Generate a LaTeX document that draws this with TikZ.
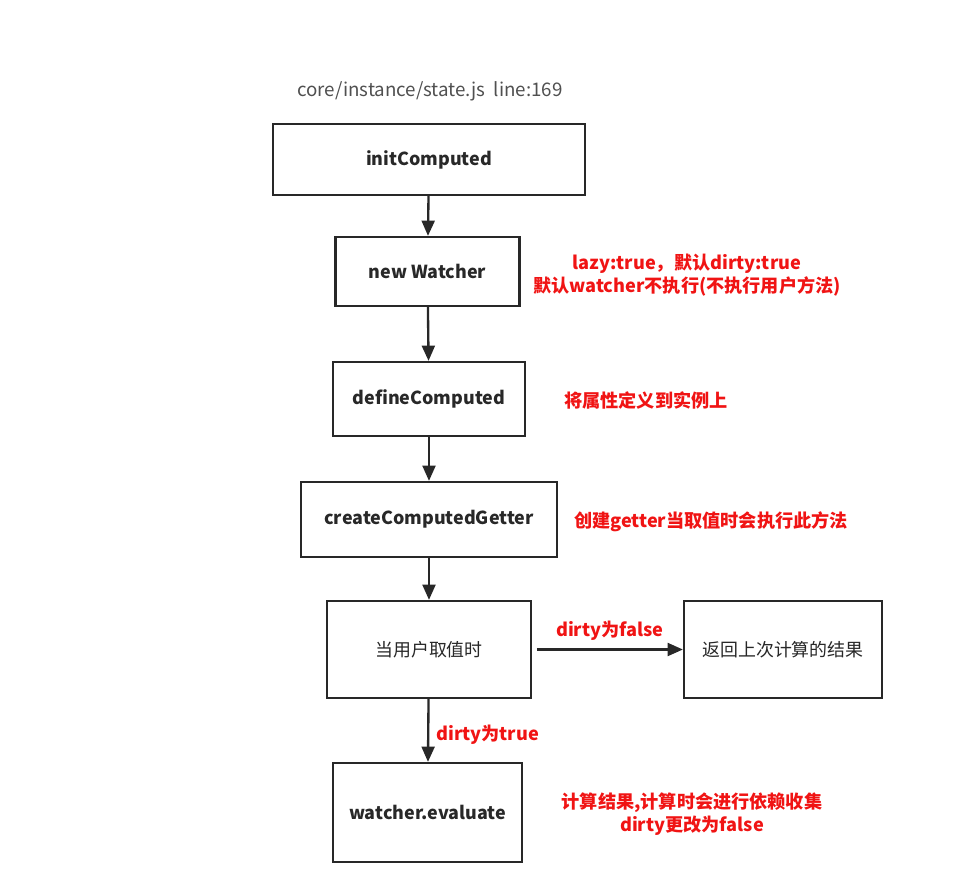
\documentclass[tikz,border=0pt]{standalone}
\usepackage{fontspec}
\setmainfont{Noto Sans CJK SC}
\usepackage{tikz}
\usetikzlibrary{positioning, arrows.meta}
\definecolor{BoxLine}{RGB}{40,40,40}
\definecolor{NoteRed}{RGB}{240,20,20}
\definecolor{PathGray}{RGB}{80,80,80}

\begin{document}
\begin{tikzpicture}[x=0.03cm, y=-0.03cm,
          stage/.style={rectangle, draw=BoxLine, line width=1.9pt,
                        font=\fontsize{15.3}{18}\selectfont\bfseries,
                        text=BoxLine, inner sep=0pt},
          plain/.style={font=\fontsize{15.3}{18}\selectfont},
          note/.style={font=\fontsize{15.5}{19.5}\selectfont\bfseries,
                       text=NoteRed, align=center, inner sep=1pt},
          arr/.style={-{Triangle[length=13pt, width=11pt]}, line width=2pt, BoxLine}
        ]
        \useasboundingbox (0,0) rectangle (974,869);

        % Source file
        \node[font=\fontsize{16}{19}\selectfont, PathGray] (src) at (430, 91)
              {core/instance/state.js\ \ line:169};

        % Stages
        \node[stage, minimum width=9.36cm, minimum height=2.13cm] (init) at (429, 159.5) {initComputed};
        \node[stage, minimum width=5.52cm, minimum height=2.07cm] (watch) at (427.5, 271.5) {new Watcher};
        \node[stage, minimum width=5.76cm, minimum height=2.22cm] (define) at (429, 399) {defineComputed};
        \node[stage, minimum width=7.68cm, minimum height=2.25cm] (getter) at (429, 519.5) {createComputedGetter};
        \node[stage, plain, minimum width=6.12cm, minimum height=2.91cm] (read) at (429, 649.5) {当用户取值时};
        \node[stage, plain, minimum width=5.94cm, minimum height=2.91cm] (cached) at (783, 649.5) {返回上次计算的结果};
        \node[stage, minimum width=5.67cm, minimum height=2.97cm] (eval) at (427.5, 812.5) {watcher.evaluate};

        % Notes
        \node[note] (nwatch) at (687, 275) {lazy:true，默认dirty:true\\默认watcher不执行(不执行用户方法)};
        \node[note] (ndefine) at (646, 400) {将属性定义到实例上};
        \node[note] (ngetter) at (711, 522) {创建getter当取值时会执行此方法};
        \node[note] (neval) at (692, 814) {计算结果,计算时会进行依赖收集\\dirty更改为false};

        % Flow
        \draw[arr] (init) -- (watch);
        \draw[arr] (watch) -- (define);
        \draw[arr] (define) -- (getter);
        \draw[arr] (getter) -- (read);
        \draw[arr] ([xshift=4pt]read.east) -- (cached)
              node[note, midway, above=6pt] {dirty为false};
        \draw[arr] (read) -- (eval)
              node[note, midway, right=5pt, yshift=-4pt] {dirty为true};
      \end{tikzpicture}
\end{document}
